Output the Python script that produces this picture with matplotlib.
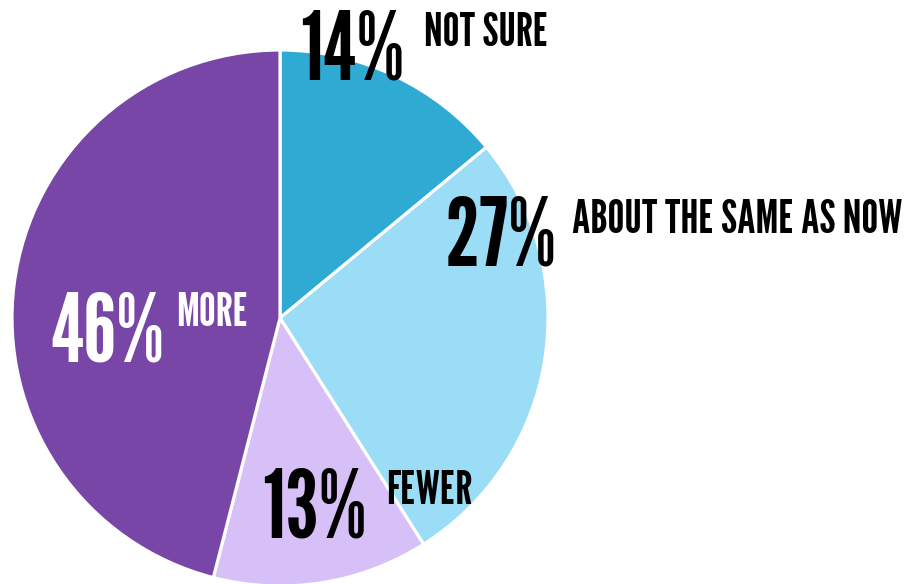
import matplotlib
matplotlib.use("Agg")
import matplotlib.pyplot as plt

# Survey answers, clockwise from 12 o'clock
categories = ["NOT SURE", "ABOUT THE SAME AS NOW", "FEWER", "MORE"]
shares = [14, 27, 13, 46]
colors = ["#2eaad3", "#9bdcf7", "#d6c0f7", "#7746a6"]

# label anchors in pixels from the top-left: (pct x, pct baseline, name x, name baseline)
label_pos = [
    (300, 80, 424, 46),
    (445, 265, 572, 233),
    (262, 538, 386, 504),
    (50, 362, 176, 326),
]
label_color = ["black", "black", "black", "white"]

W, H = 907, 584
fig = plt.figure(figsize=(W / 100, H / 100), dpi=100)
ax = fig.add_axes([0, 0, 1, 1])

ax.pie(shares, colors=colors, startangle=90, counterclock=False,
       center=(280, H - 318), radius=268,
       wedgeprops=dict(edgecolor="white", linewidth=2.3))
ax.set_xlim(0, W)
ax.set_ylim(0, H)
ax.set_aspect("equal")
ax.axis("off")

for cat, val, (px, py, nx, ny), c in zip(categories, shares, label_pos, label_color):
    ax.text(px, H - py, f"{val}%", family="League Gothic", fontsize=69,
            color=c, ha="left", va="baseline")
    ax.text(nx, H - ny, cat, family="League Gothic", fontsize=34,
            color=c, ha="left", va="baseline")

fig.savefig("out.png", dpi=100, facecolor="white")
